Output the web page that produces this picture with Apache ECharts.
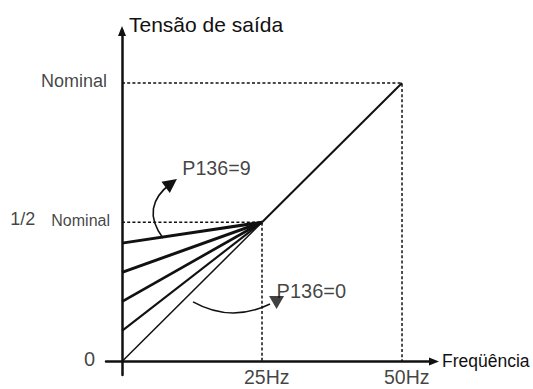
<!DOCTYPE html>
<html><head><meta charset="utf-8">
<script src="https://cdn.jsdelivr.net/npm/echarts@6/dist/echarts.min.js"></script>
<style>html,body{margin:0;padding:0;background:#fff}#c{width:533px;height:389px}</style>
</head><body><div id="c"></div>
<script>
// ---- data ----
const xTickValues = [25, 50];
const xTickLabels = ['25Hz', '50Hz'];
const yTickValues = [0, 0.5, 1];
const yTickLabels = ['0', '1/2 Nominal', 'Nominal'];
const boostIntercepts = [0.425, 0.32, 0.215, 0.11];
const kneePoint = [25, 0.5];
const nominalPoint = [50, 1];
const curveLabels = ['P136=9', 'P136=0'];
const arrow9 = [[7.32, 0.443], [8.8, 0.64]];
const arrow0 = [[12.68, 0.214], [26.43, 0.2065]];
const arrow0Head = [27.6, 0.212];
const yTitle = 'Tensão de saída';
const xTitle = 'Freqüência';

// ---- styles ----
const INK = '#111';
const FONT = '"Liberation Sans", Arial, Helvetica, sans-serif';
const boostWidths = [3, 3, 2.7, 2.1];
const dash = { color: INK, width: 1.5, type: [3, 2.2] };

const chart = echarts.init(document.getElementById('c'), null, { renderer: 'svg' });

const series = [];
// dotted guides
series.push({ type: 'line', silent: true, symbol: 'none', z: 1,
  data: [[0, nominalPoint[1]], nominalPoint, [nominalPoint[0], 0]], lineStyle: dash });
series.push({ type: 'line', silent: true, symbol: 'none', z: 1,
  data: [[0, kneePoint[1]], kneePoint, [kneePoint[0], 0]], lineStyle: dash });
// boost lines
boostIntercepts.forEach((b, i) => series.push({ type: 'line', silent: true, symbol: 'none', z: 3,
  data: [[0, b], kneePoint], lineStyle: { color: INK, width: boostWidths[i] } }));
// linear V/f
series.push({ type: 'line', silent: true, symbol: 'none', z: 3,
  data: [[0, 0], kneePoint], lineStyle: { color: INK, width: 1.5 } });
series.push({ type: 'line', silent: true, symbol: 'none', z: 3,
  data: [kneePoint, nominalPoint], lineStyle: { color: INK, width: 2 } });
// curved arrows
series.push({ type: 'lines', coordinateSystem: 'cartesian2d', silent: true, z: 4,
  symbol: ['none', 'triangle'], symbolSize: 14,
  lineStyle: { color: INK, width: 1.6, curveness: 0.5, opacity: 1 },
  data: [{ coords: arrow9 }] });
series.push({ type: 'lines', coordinateSystem: 'cartesian2d', silent: true, z: 4,
  symbol: ['none', 'none'],
  lineStyle: { color: INK, width: 1.6, curveness: -0.26, opacity: 1 },
  data: [{ coords: arrow0 }] });
series.push({ type: 'scatter', silent: true, z: 4, symbol: 'triangle', symbolSize: [15, 13],
  symbolRotate: 180, itemStyle: { color: INK }, data: [arrow0Head] });

// text labels
const base = { show: true, color: INK, fontFamily: FONT };
const yLabelStyles = [
  { position: 'left', distance: 27, offset: [0, -2], fontSize: 20 },
  { position: 'left', distance: 12, offset: [0, -3], fontSize: 16,
    rich: { a: { fontSize: 18, color: INK, fontFamily: FONT, padding: [0, 16, 0, 0], verticalAlign: 'bottom' },
            b: { fontSize: 16, color: INK, fontFamily: FONT, verticalAlign: 'bottom' } } },
  { position: 'left', distance: 15, offset: [0, -2], fontSize: 18 }
];
const labelData = [];
yTickValues.forEach((v, i) => {
  const txt = yTickLabels[i];
  const st = yLabelStyles[i];
  let formatter = txt;
  if (st.rich) { const k = txt.indexOf(' '); formatter = '{a|' + txt.slice(0, k) + '}{b|' + txt.slice(k + 1) + '}'; }
  labelData.push({ value: [0, v], label: Object.assign({}, base, st, { formatter }) });
});
xTickValues.forEach((v, i) => {
  labelData.push({ value: [v, 0], label: Object.assign({}, base,
    { position: 'inside', offset: [4.7, 16], fontSize: 19.5, lineHeight: 19, formatter: xTickLabels[i] }) });
});
labelData.push({ value: arrow9[1], label: Object.assign({}, base,
  { position: 'right', distance: 11, offset: [0, -15], fontSize: 19.7, formatter: curveLabels[0] }) });
labelData.push({ value: arrow0Head, label: Object.assign({}, base,
  { position: 'right', distance: 0, offset: [0, -11], fontSize: 20, formatter: curveLabels[1] }) });
series.push({ type: 'scatter', silent: true, z: 6, symbolSize: 0, data: labelData });

chart.setOption({
  animation: false,
  backgroundColor: '#fff',
  grid: { left: 106, right: 99, top: 31, bottom: 14, containLabel: false, outerBoundsMode: 'none' },
  xAxis: {
    type: 'value', min: -2.857, max: 55.71,
    axisLine: { show: true, onZero: true, symbol: ['none', 'triangle'], symbolSize: [8, 10],
      lineStyle: { color: INK, width: 2.5 } },
    axisTick: { show: false }, axisLabel: { show: false }, splitLine: { show: false },
    name: xTitle, nameLocation: 'end', nameGap: 8,
    nameTextStyle: { color: INK, fontSize: 17.5, fontFamily: FONT, align: 'left', verticalAlign: 'middle' }
  },
  yAxis: {
    type: 'value', min: -0.0485, max: 1.1867,
    axisLine: { show: true, onZero: true, symbol: ['none', 'triangle'], symbolSize: [8, 10],
      lineStyle: { color: INK, width: 2.5 } },
    axisTick: { show: false }, axisLabel: { show: false }, splitLine: { show: false },
    name: yTitle, nameLocation: 'end', nameGap: 7,
    nameTextStyle: { color: INK, fontSize: 21, fontFamily: FONT, align: 'left', verticalAlign: 'middle', padding: [0, 0, 0, 7] }
  },
  series
});
</script></body></html>
